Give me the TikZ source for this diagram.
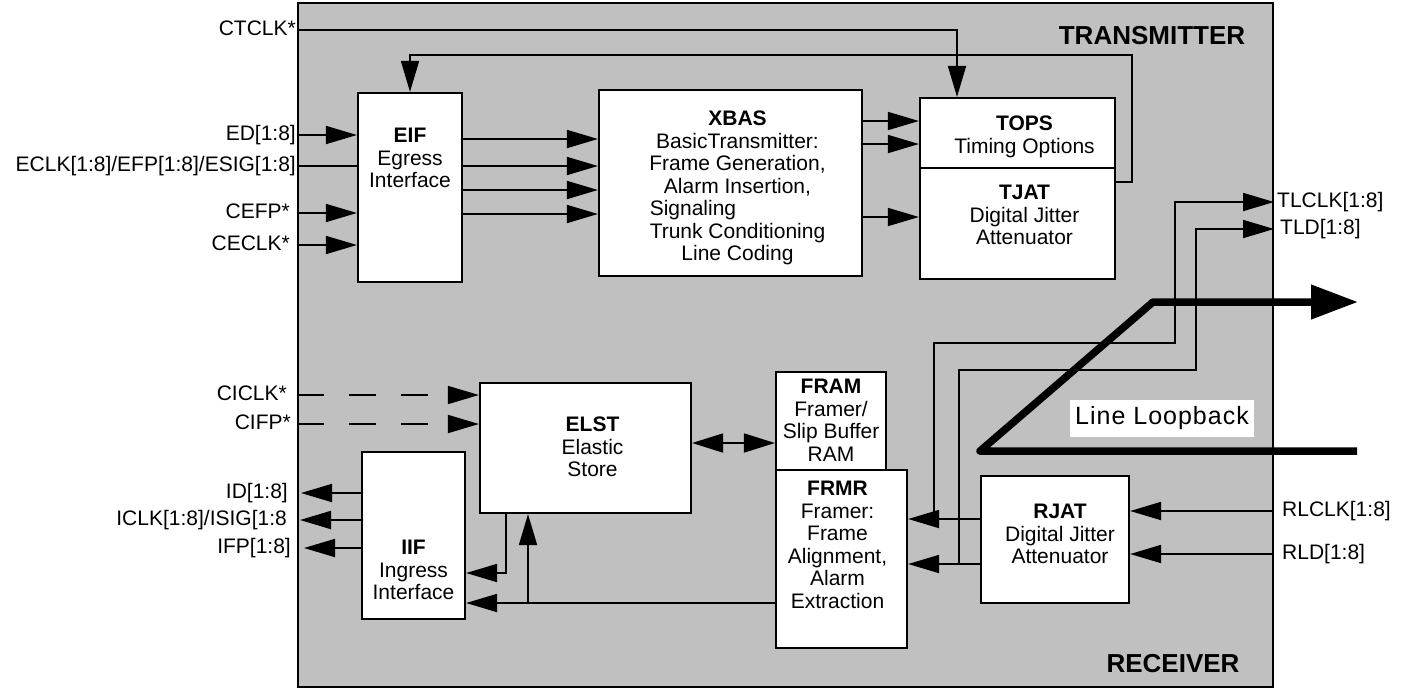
\documentclass[tikz,border=0pt]{standalone}
\usepackage{fontspec}
\setmainfont{Liberation Sans}
\usetikzlibrary{arrows.meta}
\usetikzlibrary{positioning}

\definecolor{chipgray}{RGB}{192,192,192}
\tikzset{
  blk/.style={draw,line width=2.2pt,fill=white,inner sep=0pt},
  txt/.style={align=center,inner sep=0pt,font=\fontsize{21}{22.5}\selectfont},
  sigtxt/.style={inner sep=0pt,font=\fontsize{21}{22.5}\selectfont,text height=15pt,text depth=4pt},
  sig/.style={line width=1.8pt,-{Triangle[length=31pt,width=18pt]}},
  wire/.style={line width=1.8pt},
  dsig/.style={sig,dash pattern=on 27pt off 25pt},
  lb/.style={line width=7.5pt,line join=round}
}

\begin{document}
\begin{tikzpicture}[x=1pt,y=-1pt]
    \useasboundingbox (0,0) rectangle (1407,689);

    % chip outline
    \node[draw,line width=2pt,fill=chipgray,minimum width=975pt,minimum height=684pt] (chip) at (785.5,345) {};
    \node[font=\fontsize{26}{26}\selectfont\bfseries] (txlbl) at (1152,36) {TRANSMITTER};
    \node[font=\fontsize{26}{26}\selectfont\bfseries] (rxlbl) at (1173,664) {RECEIVER};

    % transmit blocks
    \node[blk,minimum width=104pt,minimum height=189pt] (eif) at (410,187.5) {};
    \node[blk,minimum width=263pt,minimum height=186pt] (xbas) at (730.5,183) {};
    \node[blk,minimum width=195pt,minimum height=70pt] (tops) at (1017.5,133) {};
    \node[blk,minimum width=195pt,minimum height=111pt] (tjat) at (1017.5,223.5) {};
    \node[txt,below=36pt of eif.north] (eiftxt) {\textbf{EIF}\\Egress\\Interface};
    \node[txt,below=22pt of xbas.north,xshift=7pt] (xbastxt) {\textbf{XBAS}\\BasicTransmitter:\\Frame Generation,\\Alarm Insertion,\\\rlap{Signaling}\phantom{Trunk Conditioning}\\Trunk Conditioning\\Line Coding};
    \node[txt,below=19pt of tops.north,xshift=7pt] (topstxt) {\textbf{TOPS}\\Timing Options};
    \node[txt,below=18pt of tjat.north,xshift=7pt] (tjattxt) {\textbf{TJAT}\\Digital Jitter\\Attenuator};

    % receive blocks
    \node[blk,minimum width=211pt,minimum height=130pt] (elst) at (585.5,448) {};
    \node[blk,minimum width=110pt,minimum height=98pt] (fram) at (831,421) {};
    \node[blk,minimum width=131pt,minimum height=178pt] (frmr) at (841.5,559) {};
    \node[blk,minimum width=103pt,minimum height=167pt] (iif) at (413.5,535.5) {};
    \node[blk,minimum width=148pt,minimum height=127pt] (rjat) at (1055,539.5) {};
    \node[txt,below=35pt of elst.north,xshift=7pt] (elsttxt) {\textbf{ELST}\\Elastic\\Store};
    \node[txt,below=8pt of fram.north] (framtxt) {\textbf{FRAM}\\Framer/\\Slip Buffer\\RAM};
    \node[txt,below=12pt of frmr.north,xshift=-4pt] (frmrtxt) {\textbf{FRMR}\\Framer:\\Frame\\Alignment,\\Alarm\\Extraction};
    \node[txt,below=89pt of iif.north] (iiftxt) {\textbf{IIF}\\Ingress\\Interface};
    \node[txt,below=29pt of rjat.north,xshift=5pt] (rjattxt) {\textbf{RJAT}\\Digital Jitter\\Attenuator};

    % pin names
    \node[sigtxt,anchor=east] (ctclk) at (296,30) {CTCLK*};
    \node[sigtxt,anchor=east] (ed) at (296,135) {ED[1:8]};
    \node[sigtxt,anchor=east] (eclk) at (296,166) {ECLK[1:8]/EFP[1:8]/ESIG[1:8]};
    \node[sigtxt,anchor=east] (cefp) at (290,213) {CEFP*};
    \node[sigtxt,anchor=east] (ceclk) at (290,245) {CECLK*};
    \node[sigtxt,anchor=east] (ciclk) at (287,395) {CICLK*};
    \node[sigtxt,anchor=east] (cifp) at (291,424) {CIFP*};
    \node[sigtxt,anchor=east] (id) at (288,493) {ID[1:8]};
    \node[sigtxt,anchor=east] (iclk) at (287,520) {ICLK[1:8]/ISIG[1:8};
    \node[sigtxt,anchor=east] (ifp) at (291,548) {IFP[1:8]};
    \node[sigtxt,anchor=west] (tlclk) at (1277,202) {TLCLK[1:8]};
    \node[sigtxt,anchor=west] (tld) at (1280,229) {TLD[1:8]};
    \node[sigtxt,anchor=west] (rlclk) at (1282,511) {RLCLK[1:8]};
    \node[sigtxt,anchor=west] (rld) at (1282,554) {RLD[1:8]};

    % transmit connections
    \draw[sig] (chip.west |- ctclk) -| ([xshift=-60.5pt]tops.north);
    \draw[sig] (chip.west |- ed) -- (eif.west |- ed);
    \draw[wire] (chip.west |- eclk) -- (eif.west |- eclk);
    \draw[sig] (chip.west |- cefp) -- (eif.west |- cefp);
    \draw[sig] (chip.west |- ceclk) -- (eif.west |- ceclk);
    \foreach \y in {139,166,190,214}
      \draw[sig] (eif.east |- 0,\y) -- (xbas.west |- 0,\y);
    \draw[sig] (xbas.east |- 0,121) -- (tops.west |- 0,121);
    \draw[sig] (xbas.east |- 0,144) -- (tops.west |- 0,144);
    \draw[sig] (xbas.east |- 0,217) -- (tjat.west |- 0,217);
    \draw[sig] (tjat.east |- 0,182) -| (1132,55) -| (eif.north);

    % receive connections
    \draw[dsig] (chip.west |- ciclk) -- (elst.west |- ciclk);
    \draw[dsig] (chip.west |- cifp) -- (elst.west |- cifp);
    \draw[line width=1.8pt,{Triangle[length=31pt,width=19pt]}-{Triangle[length=31pt,width=19pt]}] (elst.east |- 0,443) -- (fram.west |- 0,443);
    \draw[sig] (iif.west |- id) -- ([xshift=13pt]id.east);
    \draw[sig] (iif.west |- iclk) -- ([xshift=13pt]iclk.east);
    \draw[sig] (iif.west |- ifp) -- ([xshift=13pt]ifp.east);
    \draw[sig] ([xshift=-79.5pt]elst.south) |- ([yshift=-37.5pt]iif.east);
    \coordinate (tap) at (528,603);
    \draw[sig] (frmr.west |- tap) -- (iif.east |- tap);
    \draw[sig] (tap) -- (elst.south -| tap);
    \draw[sig] (chip.east |- rlclk) -- (rjat.east |- rlclk);
    \draw[sig] (chip.east |- rld) -- (rjat.east |- rld);
    \coordinate (clkup) at (934,519);
    \coordinate (datup) at (959,564);
    \draw[sig] (rjat.west |- clkup) -- (frmr.east |- clkup);
    \draw[sig] (rjat.west |- datup) -- (frmr.east |- datup);
    \draw[sig] (clkup) |- (1175,343) |- (chip.east |- tlclk);
    \draw[sig] (datup) |- (1196,370) |- (chip.east |- tld);

    % line loopback
    \coordinate (lbin) at (1357,451);
    \coordinate (lbturn) at (980,451);
    \coordinate (lbtop) at (1153,302);
    \coordinate (lbout) at (1358,302);
    \draw[lb,-{Triangle[length=47pt,width=33pt]}] (lbin) -- (lbturn) -- (lbtop) -- (lbout);
    \node[fill=white,inner sep=0pt,minimum width=184pt,minimum height=37pt,font=\fontsize{25}{25}\selectfont\addfontfeature{LetterSpace=4}] (lbtxt) at (1162,418) {Line Loopback};

\end{tikzpicture}
\end{document}
